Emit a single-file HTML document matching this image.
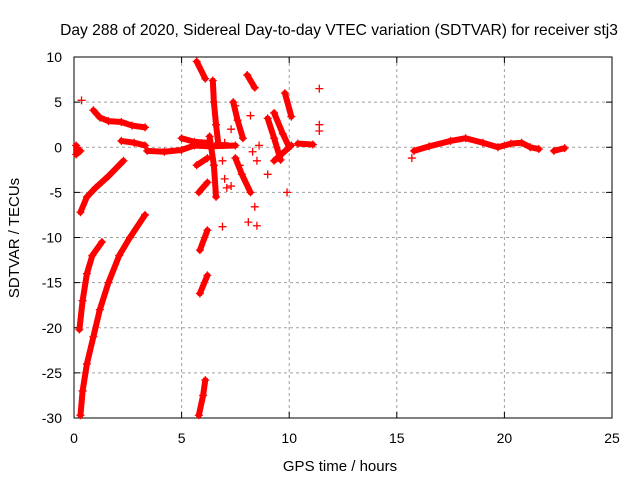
<!DOCTYPE html>
<html><head><meta charset="utf-8"><style>
body{margin:0;background:#fff}
svg{display:block;font-family:"Liberation Sans",sans-serif;font-size:14px}
</style></head><body>
<svg id="chart" width="640" height="480" viewBox="0 0 640 480">
<rect width="640" height="480" fill="#fff"/>
<text x="339" y="35" text-anchor="middle" style="font-size:15.6px">Day 288 of 2020, Sidereal Day-to-day VTEC variation (SDTVAR) for receiver stj3</text>
<g id="grid"></g>
<g id="axes"></g>
<g id="marks"></g>
<text x="340" y="471" text-anchor="middle" style="font-size:15px">GPS time / hours</text>
<text transform="translate(19,238) rotate(-90)" text-anchor="middle" style="font-size:15px">SDTVAR / TECUs</text>
</svg>
<script>
const xTicks=[0,5,10,15,20,25];
const yTicks=[10,5,0,-5,-10,-15,-20,-25,-30];
// dense tracks (hours, TECU)
const track1=[[0.25,-20.2],[0.4,-17],[0.6,-14],[0.85,-12],[1.3,-10.5]];
const track2=[[0.3,-29.7],[0.4,-27],[0.6,-24],[0.9,-21],[1.2,-18],[1.6,-15],[2.1,-12],[2.6,-10],[3.3,-7.5]];
const track3=[[0.3,-7.2],[0.6,-5.5],[1.0,-4.5],[1.6,-3.2],[2.3,-1.5]];
const track4=[[0.9,4.1],[1.2,3.3],[1.6,2.9],[2.2,2.8],[2.7,2.4],[3.3,2.2]];
const track5=[[0.1,0.2],[0.1,-0.8],[0.3,-0.4]];
const track6=[[2.2,0.7],[2.8,0.5],[3.3,0.2]];
const track7=[[3.4,-0.4],[4.2,-0.5],[5.0,-0.3],[5.6,0.2],[6.3,0.1],[7.5,0.2]];
const track8=[[5.0,1.0],[5.6,0.6],[6.2,0.5]];
const track9=[[5.7,9.5],[6.1,7.6]];
const track10=[[6.45,7.4],[6.5,5],[6.6,2.5],[6.7,0.5]];
const track11=[[7.4,5],[7.6,3],[7.85,1]];
const track12=[[8.05,8],[8.4,6.6]];
const track13=[[9.0,3.2],[9.3,1],[9.6,-1.4]];
const track14=[[9.3,3.8],[9.7,1.5],[10.0,0]];
const track15=[[9.8,6],[10.1,3.4]];
const track16=[[9.3,-1.5],[10.1,0.2]];
const track17=[[6.3,1.2],[6.5,-2],[6.6,-5.5]];
const track18=[[5.7,-2],[6.2,-1.2]];
const track19=[[5.8,-5],[6.2,-3.9]];
const track20=[[7.5,-1.2],[7.8,-3],[8.2,-5]];
const track21=[[5.85,-11.4],[6.2,-9.2]];
const track22=[[5.85,-16.2],[6.2,-14.2]];
const track23=[[5.8,-29.7],[6.0,-27.5],[6.1,-25.8]];
const track24=[[10.4,0.4],[11.1,0.3]];
const track25=[[15.8,-0.4],[16.5,0.1],[17.5,0.7],[18.2,1.0],[19.0,0.5],[19.7,0.0],[20.3,0.4],[20.8,0.5],[21.2,0.0],[21.6,-0.2]];
const track26=[[22.3,-0.4],[22.8,-0.1]];
const tracks=[track1,track2,track3,track4,track5,track6,track7,track8,track9,track10,track11,track12,track13,track14,track15,track16,track17,track18,track19,track20,track21,track22,track23,track24,track25,track26];
const singles=[[0.35,5.2],[7.5,4.6],[6.9,-1.5],[7.0,-3.5],[7.1,-4.5],[7.3,2],[7.0,0.5],[7.7,-2],[8.3,-0.5],[8.5,-1.5],[8.4,-6.6],[8.5,-8.7],[9.9,-5],[11.4,6.5],[11.4,2.5],[11.4,1.8],[15.7,-1.2],[8.1,-8.3],[6.9,-8.8],[7.3,-4.3],[8.2,3.5],[8.6,0.2],[9.0,-3.0]];

const X0=74,X1=612,Y0=57,Y1=418;
const sx=v=>X0+(v-0)/25*(X1-X0);
const sy=v=>Y1-(v+30)/40*(Y1-Y0);
const NS="http://www.w3.org/2000/svg";
const grid=document.getElementById('grid'),axes=document.getElementById('axes'),marks=document.getElementById('marks');
function mk(tag,attrs,parent){const e=document.createElementNS(NS,tag);for(const k in attrs)e.setAttribute(k,attrs[k]);parent.appendChild(e);return e;}
xTicks.forEach(t=>{
  const x=sx(t);
  if(t>0&&t<25){const g=mk('line',{x1:x,x2:x,y1:Y0,y2:Y1,stroke:'#a0a0a0','stroke-dasharray':'3,3'},grid);
  
  }
  mk('line',{x1:x,x2:x,y1:Y1,y2:Y1-6,stroke:'#000'},axes);
  mk('line',{x1:x,x2:x,y1:Y0,y2:Y0+6,stroke:'#000'},axes);
  const l=mk('text',{x:x,y:Y1+25,'text-anchor':'middle'},axes);l.textContent=t;
  
  
});
yTicks.forEach(t=>{
  const y=sy(t);
  if(t<10&&t>-30){const g=mk('line',{x1:X0,x2:X1,y1:y,y2:y,stroke:'#a0a0a0','stroke-dasharray':'3,3'},grid);
  
  }
  mk('line',{x1:X0,x2:X0+6,y1:y,y2:y,stroke:'#000'},axes);
  mk('line',{x1:X1,x2:X1-6,y1:y,y2:y,stroke:'#000'},axes);
  const l=mk('text',{x:X0-12,y:y+5,'text-anchor':'end'},axes);l.textContent=t;
  
  
});
mk('rect',{x:X0,y:Y0,width:X1-X0,height:Y1-Y0,fill:'none',stroke:'#000'},axes);
function plus(v){
  const x=sx(v[0]),y=sy(v[1]);
  const p=mk('path',{d:`M${x-4},${y}h8M${x},${y-4}v8`,stroke:'#f00','stroke-width':1.3,fill:'none'},marks);
  
  
}
tracks.forEach(tr=>{
  const pl=mk('polyline',{points:tr.map(v=>sx(v[0])+','+sy(v[1])).join(' '),stroke:'#f00','stroke-width':6,fill:'none','stroke-linecap':'round','stroke-linejoin':'round'},marks);
  
  
  tr.forEach(plus);
});
singles.forEach(plus);
</script>
</body></html>
